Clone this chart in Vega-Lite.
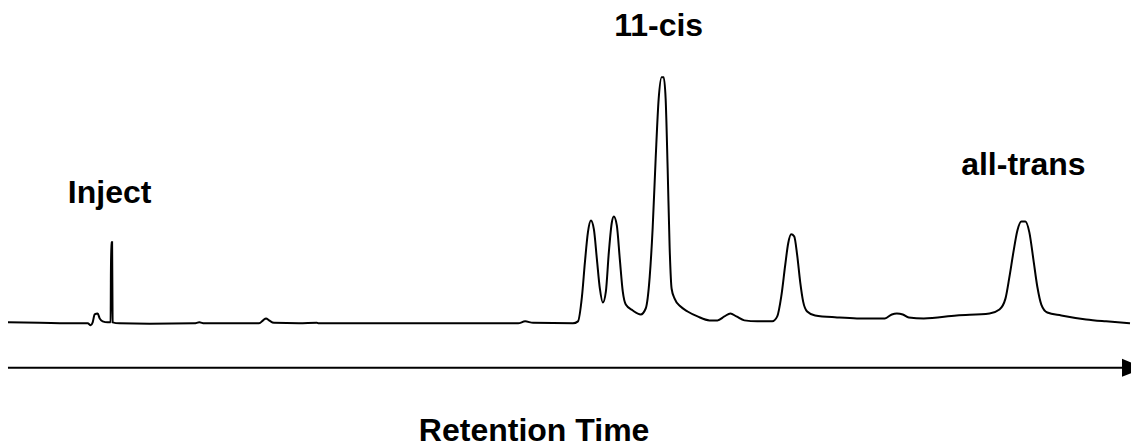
{
  "$schema": "https://vega.github.io/schema/vega-lite/v6.json",
  "width": 1134,
  "height": 447,
  "padding": 0,
  "autosize": {"type": "fit", "contains": "padding"},
  "background": "white",
  "config": {"view": {"stroke": null}},
  "datasets": {
    "trace": [
      {"t": 8, "s": 1}, {"t": 40, "s": 0.5}, {"t": 80, "s": 0}, {"t": 88, "s": 0}, {"t": 91, "s": -2},
      {"t": 93, "s": 1}, {"t": 95, "s": 9}, {"t": 98, "s": 10}, {"t": 100, "s": 5}, {"t": 103, "s": 2},
      {"t": 108, "s": 1}, {"t": 111, "s": 1}, {"t": 111.5, "s": 82}, {"t": 112.5, "s": 82}, {"t": 113, "s": 1},
      {"t": 120, "s": 0}, {"t": 150, "s": -0.5}, {"t": 195, "s": 0}, {"t": 200, "s": 1}, {"t": 205, "s": 0},
      {"t": 260, "s": 0}, {"t": 264, "s": 3}, {"t": 267, "s": 5}, {"t": 270, "s": 3}, {"t": 275, "s": 0.5},
      {"t": 300, "s": 0}, {"t": 318, "s": 0.5}, {"t": 320, "s": 0}, {"t": 400, "s": 0}, {"t": 500, "s": 0},
      {"t": 520, "s": 0}, {"t": 527, "s": 2}, {"t": 535, "s": 0.5}, {"t": 575, "s": 0}, {"t": 580, "s": 2},
      {"t": 584, "s": 27}, {"t": 587, "s": 62}, {"t": 590, "s": 92}, {"t": 593, "s": 104}, {"t": 596, "s": 95},
      {"t": 599, "s": 65}, {"t": 602, "s": 35}, {"t": 605, "s": 21}, {"t": 608, "s": 32}, {"t": 611, "s": 72},
      {"t": 614, "s": 102}, {"t": 616, "s": 108}, {"t": 619, "s": 99}, {"t": 622, "s": 65}, {"t": 625, "s": 32},
      {"t": 628, "s": 19}, {"t": 635, "s": 13}, {"t": 643, "s": 9}, {"t": 648, "s": 15}, {"t": 652, "s": 47},
      {"t": 655, "s": 97}, {"t": 658, "s": 167}, {"t": 661, "s": 227}, {"t": 664, "s": 249}, {"t": 666, "s": 249},
      {"t": 668, "s": 227}, {"t": 670, "s": 157}, {"t": 672, "s": 77}, {"t": 674, "s": 35}, {"t": 677, "s": 25},
      {"t": 683, "s": 17}, {"t": 690, "s": 12}, {"t": 700, "s": 7}, {"t": 712, "s": 3}, {"t": 720, "s": 3},
      {"t": 727, "s": 7}, {"t": 733, "s": 10}, {"t": 739, "s": 7}, {"t": 747, "s": 3}, {"t": 760, "s": 2},
      {"t": 775, "s": 2}, {"t": 780, "s": 7}, {"t": 784, "s": 27}, {"t": 788, "s": 59}, {"t": 791, "s": 81},
      {"t": 794, "s": 90}, {"t": 797, "s": 88}, {"t": 800, "s": 69}, {"t": 803, "s": 42}, {"t": 806, "s": 22},
      {"t": 810, "s": 12}, {"t": 818, "s": 8}, {"t": 840, "s": 6}, {"t": 860, "s": 5}, {"t": 888, "s": 5},
      {"t": 895, "s": 9}, {"t": 900, "s": 10}, {"t": 906, "s": 9}, {"t": 912, "s": 6}, {"t": 927, "s": 5},
      {"t": 960, "s": 8}, {"t": 993, "s": 10}, {"t": 1003, "s": 14}, {"t": 1009, "s": 25}, {"t": 1013, "s": 47},
      {"t": 1017, "s": 72}, {"t": 1021, "s": 94}, {"t": 1025, "s": 103}, {"t": 1029, "s": 103}, {"t": 1033, "s": 92},
      {"t": 1037, "s": 65}, {"t": 1041, "s": 37}, {"t": 1045, "s": 19}, {"t": 1051, "s": 11}, {"t": 1065, "s": 8},
      {"t": 1090, "s": 4}, {"t": 1110, "s": 2}, {"t": 1134, "s": 0}
    ],
    "labels": [
      {"label": "Inject", "t": 110, "s": 122},
      {"label": "11-cis", "t": 661, "s": 291},
      {"label": "all-trans", "t": 1027, "s": 150},
      {"label": "Retention Time", "t": 536, "s": -119}
    ],
    "arrow": [{"t": 8, "t2": 1128, "s": -45, "head": 1130.5}]
  },
  "layer": [
    {
      "data": {"name": "trace"},
      "mark": {"type": "line", "color": "black", "strokeWidth": 2, "interpolate": "monotone"},
      "encoding": {
        "x": {"field": "t", "type": "quantitative", "scale": {"domain": [0, 1134], "nice": false, "zero": false}, "axis": null},
        "y": {"field": "s", "type": "quantitative", "scale": {"domain": [-120, 327], "nice": false, "zero": false}, "axis": null}
      }
    },
    {
      "data": {"name": "arrow"},
      "mark": {"type": "rule", "color": "black", "strokeWidth": 2},
      "encoding": {
        "x": {"field": "t", "type": "quantitative"},
        "x2": {"field": "t2"},
        "y": {"field": "s", "type": "quantitative"}
      }
    },
    {
      "data": {"name": "arrow"},
      "mark": {"type": "point", "shape": "M-0.5,-1L0.5,-0.6L0.5,0.6L-0.5,1Z", "filled": true, "color": "black", "opacity": 1, "size": 324},
      "encoding": {
        "x": {"field": "head", "type": "quantitative"},
        "y": {"field": "s", "type": "quantitative"}
      }
    },
    {
      "data": {"name": "labels"},
      "mark": {"type": "text", "font": "Liberation Sans", "fontWeight": "bold", "fontSize": 32, "align": "center", "baseline": "alphabetic", "color": "black"},
      "encoding": {
        "x": {"field": "t", "type": "quantitative"},
        "y": {"field": "s", "type": "quantitative"},
        "text": {"field": "label"}
      }
    }
  ]
}
